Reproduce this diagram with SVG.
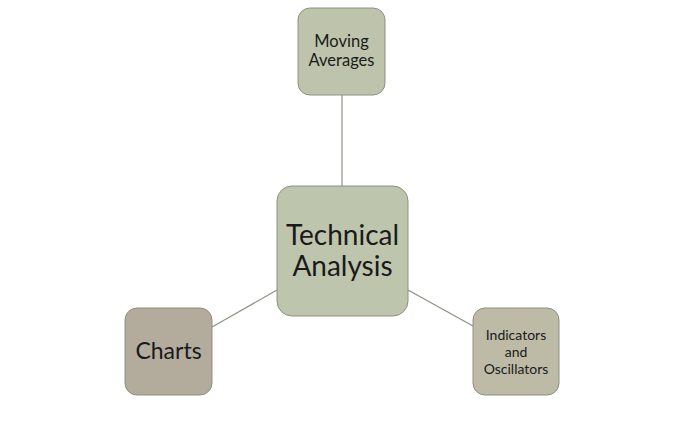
<svg xmlns="http://www.w3.org/2000/svg" width="681" height="422" viewBox="0 0 681 422">
<style>
.node rect{stroke:#8e907f;stroke-width:1}
.t{font-family:Lato,"Open Sans",sans-serif;fill:#1a1a1a;text-anchor:middle}
.conn line{stroke:#8f8f82;stroke-width:1.2}
</style>
<rect width="681" height="422" fill="#ffffff"/>
<g id="connectors" class="conn">
<line x1="342" y1="95" x2="342" y2="186"/>
<line x1="277" y1="290" x2="212" y2="327"/>
<line x1="408" y1="290" x2="473" y2="326"/>
</g>
<g id="technical-analysis" class="node">
<rect x="277" y="186" width="131" height="130" rx="15" fill="#bec5ad"/>
<text class="t" x="342.5" y="245" font-size="28">Technical</text>
<text class="t" x="342.5" y="276" font-size="28">Analysis</text>
</g>
<g id="moving-averages" class="node">
<rect x="298" y="8" width="87" height="87" rx="12" fill="#bec4ab"/>
<text class="t" x="341.5" y="47" font-size="16.5">Moving</text>
<text class="t" x="341.5" y="66" font-size="16.5">Averages</text>
</g>
<g id="charts" class="node">
<rect x="125" y="308" width="87" height="87" rx="12" fill="#b3ab9c"/>
<text class="t" x="168.5" y="359" font-size="23">Charts</text>
</g>
<g id="indicators" class="node">
<rect x="473" y="308" width="86" height="87" rx="12" fill="#bdbba6"/>
<text class="t" x="516" y="340" font-size="14">Indicators</text>
<text class="t" x="516" y="357" font-size="14">and</text>
<text class="t" x="516" y="374" font-size="14">Oscillators</text>
</g>
</svg>
